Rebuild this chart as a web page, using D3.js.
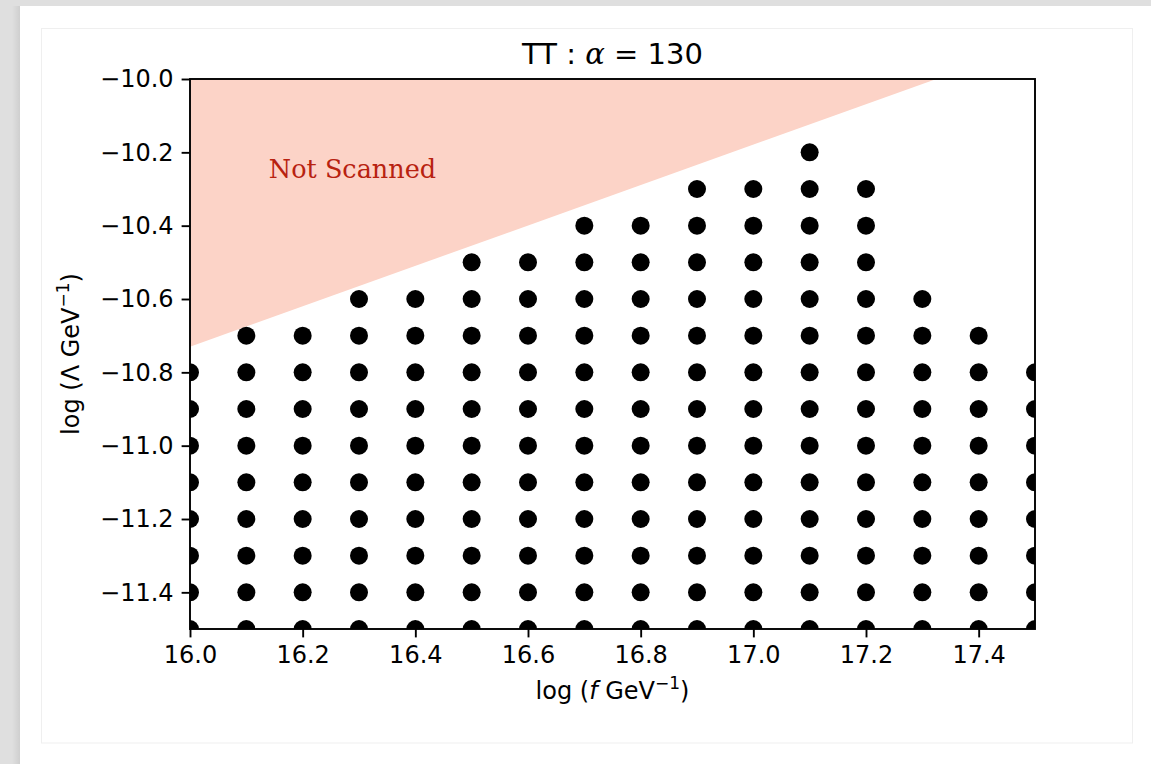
<!DOCTYPE html>
<html>
<head>
<meta charset="utf-8">
<script src="https://cdn.jsdelivr.net/npm/d3@7"></script>
<style>
  html, body { margin: 0; padding: 0; background: #dfdfdf; }
  svg { display: block; }
</style>
</head>
<body>
<script>
// ---- data ----
const logF = [16.0, 16.1, 16.2, 16.3, 16.4, 16.5, 16.6, 16.7, 16.8, 16.9, 17.0, 17.1, 17.2, 17.3, 17.4, 17.5];
const topLogLambda = [-10.8, -10.7, -10.7, -10.6, -10.6, -10.5, -10.5, -10.4, -10.4, -10.3, -10.3, -10.2, -10.3, -10.6, -10.7, -10.8];
const logLambdaRows = [-10.2, -10.3, -10.4, -10.5, -10.6, -10.7, -10.8, -10.9, -11.0, -11.1, -11.2, -11.3, -11.4, -11.5];
const xTicks = [16.0, 16.2, 16.4, 16.6, 16.8, 17.0, 17.2, 17.4];
const yTicks = [-10.0, -10.2, -10.4, -10.6, -10.8, -11.0, -11.2, -11.4];
const notScannedRegion = [[16.0, -10.73], [17.325, -10.0], [16.0, -10.0]];
const titleText = "TT : ";
const alphaValue = "130";

// build scanned points
const points = [];
logF.forEach((f, i) => {
  logLambdaRows.forEach(l => { if (l <= topLogLambda[i] + 1e-9) points.push([f, l]); });
});

const W = 1151, H = 764;
const svg = d3.select("body").append("svg").attr("width", W).attr("height", H);

// page frame
const defs = svg.append("defs");
const grad = defs.append("linearGradient").attr("id", "shadow").attr("x1", "0").attr("x2", "1");
grad.append("stop").attr("offset", "0").attr("stop-color", "#dfdfdf");
grad.append("stop").attr("offset", "1").attr("stop-color", "#c4c4c4");
svg.append("rect").attr("x", 0).attr("y", 0).attr("width", W).attr("height", H).attr("fill", "#dfdfdf");
svg.append("rect").attr("x", 12).attr("y", 6).attr("width", 8).attr("height", H).attr("fill", "url(#shadow)").attr("opacity", 0.6);
svg.append("rect").attr("x", 20).attr("y", 6).attr("width", W - 20).attr("height", H).attr("fill", "#ffffff");
svg.append("rect").attr("x", 41.5).attr("y", 28.5).attr("width", 1091).attr("height", 714.5)
  .attr("fill", "none").attr("stroke", "#efefef").attr("stroke-width", 1);

const m = { left: 190, right: 1035, top: 79, bottom: 629 };
const x = d3.scaleLinear().domain([16.0, 17.5]).range([m.left, m.right]);
const y = d3.scaleLinear().domain([-10.0, -11.5]).range([m.top, m.bottom]);

defs.append("clipPath").attr("id", "plotclip").append("rect")
  .attr("x", m.left).attr("y", m.top).attr("width", m.right - m.left).attr("height", m.bottom - m.top);

const plot = svg.append("g").attr("clip-path", "url(#plotclip)");

plot.append("path")
  .attr("d", d3.line().x(d => x(d[0])).y(d => y(d[1]))(notScannedRegion) + "Z")
  .attr("fill", "#fcd3c7");

plot.selectAll("circle.pt").data(points).enter().append("circle")
  .attr("class", "pt")
  .attr("cx", d => x(d[0])).attr("cy", d => y(d[1])).attr("r", 9)
  .attr("fill", "#000");

// Not Scanned label
svg.append("text")
  .attr("x", x(16.14)).attr("y", y(-10.27))
  .attr("font-family", "'DejaVu Serif', serif").attr("font-size", 25.5)
  .attr("fill", "#b82210")
  .text("Not Scanned");

// axes
const fmtMinus = v => d3.format(".1f")(v).replace("-", "\u2212");
const xAxis = d3.axisBottom(x).tickValues(xTicks).tickFormat(fmtMinus).tickSize(8.4).tickPadding(8);
const yAxis = d3.axisLeft(y).tickValues(yTicks).tickFormat(fmtMinus).tickSize(8.4).tickPadding(8);

const gx = svg.append("g").attr("transform", `translate(0,${m.bottom})`).call(xAxis);
const gy = svg.append("g").attr("transform", `translate(${m.left},0)`).call(yAxis);
[gx, gy].forEach(g => {
  g.select(".domain").remove();
  g.selectAll(".tick line").attr("stroke", "#000").attr("stroke-width", 1.9);
  g.selectAll(".tick text").attr("font-family", "'DejaVu Sans', sans-serif").attr("font-size", 24).attr("fill", "#000");
});
gx.selectAll(".tick text").attr("dy", "0.72em");

// frame
svg.append("rect").attr("x", m.left).attr("y", m.top).attr("width", m.right - m.left).attr("height", m.bottom - m.top)
  .attr("fill", "none").attr("stroke", "#000").attr("stroke-width", 1.9);

// title
const title = svg.append("text")
  .attr("x", (m.left + m.right) / 2).attr("y", 64)
  .attr("text-anchor", "middle")
  .attr("font-family", "'DejaVu Sans', sans-serif").attr("font-size", 29).attr("fill", "#000");
title.append("tspan").text(titleText);
title.append("tspan").attr("font-style", "italic").attr("font-family", "'DejaVu Serif', serif").text("\u03b1");
title.append("tspan").text(" = " + alphaValue);

// axis labels
const xl = svg.append("text")
  .attr("x", (m.left + m.right) / 2).attr("y", 699)
  .attr("text-anchor", "middle")
  .attr("font-family", "'DejaVu Sans', sans-serif").attr("font-size", 24).attr("fill", "#000");
xl.append("tspan").text("log (");
xl.append("tspan").attr("font-style", "italic").text("f");
xl.append("tspan").text(" GeV");
xl.append("tspan").attr("font-size", 17).attr("dy", -10).text("\u22121");
xl.append("tspan").attr("dy", 10).text(")");

const yl = svg.append("text")
  .attr("transform", `translate(79,${(m.top + m.bottom) / 2}) rotate(-90)`)
  .attr("text-anchor", "middle")
  .attr("font-family", "'DejaVu Sans', sans-serif").attr("font-size", 24).attr("fill", "#000");
yl.append("tspan").text("log (\u039b GeV");
yl.append("tspan").attr("font-size", 17).attr("dy", -10).text("\u22121");
yl.append("tspan").attr("dy", 10).text(")");
</script>
</body>
</html>
